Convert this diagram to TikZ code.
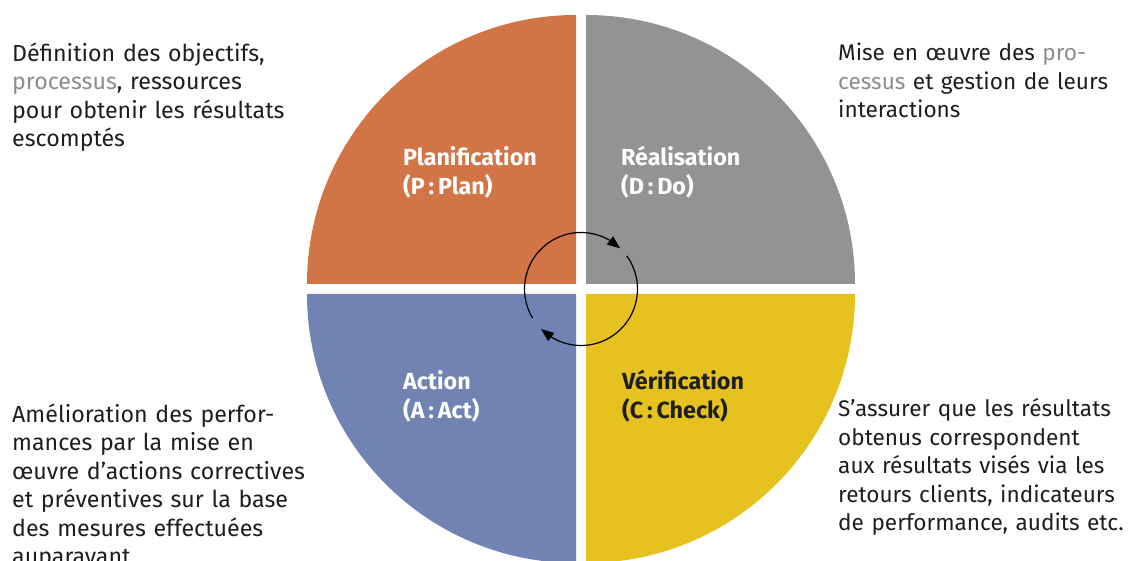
\documentclass[tikz,border=0pt]{standalone}
\usepackage{fontspec}
\setmainfont{Fira Sans}
\usetikzlibrary{arrows.meta,bending}
\definecolor{cP}{HTML}{D17546}
\definecolor{cD}{HTML}{939393}
\definecolor{cA}{HTML}{7083B3}
\definecolor{cC}{HTML}{E5C21F}
\definecolor{txt}{HTML}{1E1E1E}
\definecolor{lnk}{HTML}{8C8C8C}
\begin{document}
\begin{tikzpicture}[x=1pt,y=1pt,
  body/.style={anchor=base west, inner sep=0pt, text width=330pt, align=left,
    font=\fontsize{23.2}{28.5}\selectfont, text=txt},
  bodyr/.style={body, font=\fontsize{22.6}{28.5}\selectfont},
  lab/.style={anchor=base west, inner sep=0pt, text width=200pt, align=left,
    font=\bfseries\fontsize{23.3}{29}\selectfont, text=white},
  cyc/.style={line width=1.2pt, -{Triangle[length=13pt,width=10pt]}}]
\useasboundingbox (0,0) rectangle (1128,561);
\coordinate (ctr) at (581,272);
% quadrants
\fill[cP] (576,277) -- ++(-269,0) arc[start angle=180,end angle=90,radius=269] -- cycle;
\fill[cD] (586,277) -- ++(0,269) arc[start angle=90,end angle=0,radius=269] -- cycle;
\fill[cA] (576,267) -- ++(0,-269) arc[start angle=270,end angle=180,radius=269] -- cycle;
\fill[cC] (586,267) -- ++(269,0) arc[start angle=0,end angle=-90,radius=269] -- cycle;
% labels
\node[lab] (lP) at (403,395) {Planification\\(P\,:\,Plan)};
\node[lab] (lD) at (621,395) {Réalisation\\(D\,:\,Do)};
\node[lab] (lA) at (403,171.5) {Action\\(A\,:\,Act)};
\node[lab, text=txt] (lC) at (622,171.5) {Vérification\\(C\,:\,Check)};
% cycle arrows
\draw[cyc] (ctr) ++(211:56.5) arc[start angle=211,end angle=46,radius=56.5];
\draw[cyc] (ctr) ++(36:56.5) arc[start angle=36,end angle=-135,radius=56.5];
% descriptions
\node[body] (tP) at (12,499.5) {Définition des objectifs,\\\textcolor{lnk}{processus}, ressources\\pour obtenir les résultats\\escomptés};
\node[bodyr] (tD) at (838,500) {Mise en œuvre des \textcolor{lnk}{pro-}\\\textcolor{lnk}{cessus} et gestion de leurs\\interactions};
\node[body] (tA) at (12,138.5) {Amélioration des perfor-\\mances par la mise en\\œuvre d’actions correctives\\et préventives sur la base\\des mesures effectuées\\auparavant};
\node[bodyr] (tC) at (838,144) {S’assurer que les résultats\\obtenus correspondent\\aux résultats visés via les\\retours clients, indicateurs\\de performance, audits etc.};
\end{tikzpicture}
\end{document}
